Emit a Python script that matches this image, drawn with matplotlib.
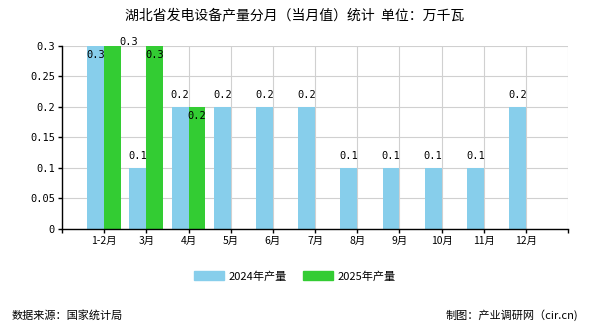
import matplotlib
matplotlib.use('Agg')
import matplotlib.pyplot as plt
import numpy as np
from matplotlib.patches import Patch

plt.rcParams['font.family'] = ['Noto Sans CJK SC', 'DejaVu Sans']

# data
months = ['1-2月', '3月', '4月', '5月', '6月', '7月', '8月', '9月', '10月', '11月', '12月']
prod_2024 = [0.3, 0.1, 0.2, 0.2, 0.2, 0.2, 0.1, 0.1, 0.1, 0.1, 0.2]
prod_2025 = [0.3, 0.3, 0.2]
yticks = [0, 0.05, 0.1, 0.15, 0.2, 0.25, 0.3]

c24 = '#87ceeb'
c25 = '#33cc33'
w = 0.4
mono = ['DejaVu Sans Mono']

fig = plt.figure(figsize=(5.9, 3.3), dpi=100)
ax = fig.add_axes([0.105, 0.306, 0.858, 0.555])

x = np.arange(len(months))
x25 = np.arange(len(prod_2025))
ax.bar(x - w / 2, prod_2024, w, color=c24, zorder=2)
ax.bar(x25 + w / 2, prod_2025, w, color=c25, zorder=2)

ymax = max(yticks)
# value labels
for i, v in enumerate(prod_2024):
    if v >= ymax:
        ax.text(i - w / 2, v - 0.006, str(v), ha='center', va='top', fontsize=7.5, family=mono, zorder=3)
    else:
        ax.text(i - w / 2, v + 0.011, str(v), ha='center', va='bottom', fontsize=7.5, family=mono, zorder=3)
for i, v in enumerate(prod_2025):
    if i == 0:
        # label pushed aside in the original
        ax.text(i + 0.58, v - 0.002, str(v), ha='center', va='bottom', fontsize=7.5, family=mono, zorder=3)
    else:
        ax.text(i + w / 2, v - 0.006, str(v), ha='center', va='top', fontsize=7.5, family=mono, zorder=3)

ax.set_xlim(-1, len(months))
ax.set_ylim(0, ymax)
ax.set_xticks(np.arange(-1, len(months) + 1))
ax.set_xticklabels([''] + months + [''], fontsize=7.5)
ax.set_yticks(yticks)
ax.set_yticklabels([str(t) for t in yticks], fontsize=7.5, family=mono)
ax.grid(True, color='#d0d0d0', linewidth=0.8, zorder=0)
ax.set_axisbelow(True)
for s in ['top', 'right']:
    ax.spines[s].set_visible(False)
ax.spines['left'].set_linewidth(1)
ax.spines['bottom'].set_linewidth(1)
ax.tick_params(axis='both', length=3, width=1, pad=2)

fig.text(0.5, 0.952, '湖北省发电设备产量分月（当月值）统计  单位：万千瓦', ha='center', va='center', fontsize=10)

handles = [Patch(color=c24, label='2024年产量'), Patch(color=c25, label='2025年产量')]
fig.legend(handles=handles, loc='center', bbox_to_anchor=(0.5, 0.163), ncol=2, frameon=False,
           fontsize=8, handlelength=2.7, handleheight=0.8, columnspacing=1.5, handletextpad=0.4)

fig.text(0.02, 0.045, '数据来源：国家统计局', ha='left', va='center', fontsize=8)
fig.text(0.98, 0.045, '制图：产业调研网（cir.cn)', ha='right', va='center', fontsize=8)

fig.savefig('out.png', dpi=100)
